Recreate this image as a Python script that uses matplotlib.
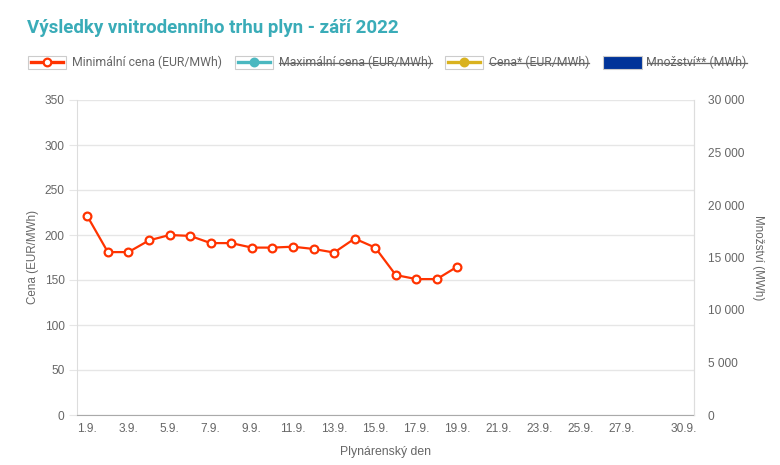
import matplotlib
matplotlib.use("Agg")
import matplotlib.pyplot as plt
from matplotlib.lines import Line2D
from matplotlib.patches import Rectangle

plt.rcParams['font.family'] = ['Roboto', 'DejaVu Sans']
AX_FONT = ['Liberation Sans', 'DejaVu Sans']

days = list(range(1, 31))
tick_days = [1, 3, 5, 7, 9, 11, 13, 15, 17, 19, 21, 23, 25, 27, 30]
tick_labels = [f"{d}." + "9." for d in tick_days]
min_price_days = list(range(1, 20))
min_price = [221, 181, 181, 194, 200, 199, 191, 191, 186, 186, 187, 184.5, 180.5,
             196, 186, 155.5, 151, 151, 165]
left_ticks = [0, 50, 100, 150, 200, 250, 300, 350]
right_ticks = [0, 5000, 10000, 15000, 20000, 25000, 30000]

RED = '#ff3300'
TEAL = '#4bb8c0'
YELLOW = '#d9b21f'
BLUE = '#003399'
GRID = '#e6e6e6'
TXT = '#666666'

W, H = 780, 465
fig = plt.figure(figsize=(W / 100, H / 100), dpi=100)
ax = fig.add_axes([77 / W, 1 - 415 / H, (694 - 77) / W, (415 - 100) / H])

ax.plot(min_price_days, min_price, color=RED, lw=1.6, marker='o', ms=5.6,
        mfc='white', mec=RED, mew=1.6, zorder=5, clip_on=False)

ax.set_xlim(0.5, 30.5)
ax.set_ylim(0, 350)
ax.set_xticks(tick_days)
ax.set_xticklabels(tick_labels, family=AX_FONT)
ax.set_yticks(left_ticks)
ax.set_yticklabels([str(v) for v in left_ticks], family=AX_FONT)
ax.grid(axis='y', color=GRID, lw=1)
ax.set_axisbelow(True)
ax.spines['top'].set_visible(False)
ax.spines['left'].set_color('#dddddd')
ax.spines['right'].set_color('#dddddd')
ax.spines['bottom'].set_color('#aaaaaa')
ax.tick_params(axis='y', colors=GRID, labelcolor=TXT, labelsize=8.6, length=6, pad=3)
ax.tick_params(axis='x', length=0, labelcolor=TXT, labelsize=8.6, pad=6)
ax.set_ylabel('Cena (EUR/MWh)', color=TXT, fontsize=8.4, labelpad=4, family=AX_FONT)
ax.set_xlabel('Plynárenský den', color=TXT, fontsize=8.8, labelpad=8, family=AX_FONT)

ax2 = ax.twinx()
ax2.set_ylim(0, 30000)
ax2.set_yticks(right_ticks)
ax2.set_yticklabels([f"{v:,}".replace(',', ' ') for v in right_ticks], family=AX_FONT)
ax2.tick_params(axis='y', length=0, labelcolor=TXT, labelsize=8.6, pad=10)
for s in ['top', 'left', 'bottom']:
    ax2.spines[s].set_visible(False)
ax2.spines['right'].set_color('#dddddd')
ax2.set_ylabel('Množství (MWh)', color=TXT, fontsize=8.4, rotation=270, labelpad=14,
               family=AX_FONT)

fig.text(27 / W, 1 - 28 / H, 'Výsledky vnitrodenního trhu plyn - září 2022',
         color='#3aacb8', fontsize=13.5, fontweight='bold', va='center', ha='left')

# legend
ly = 62.5
items = [
    (27.5, 'line', RED, 'Minimální cena (EUR/MWh)', False),
    (235, 'line', TEAL, 'Maximální cena (EUR/MWh)', True),
    (445, 'line', YELLOW, 'Cena* (EUR/MWh)', True),
    (602.5, 'box', BLUE, 'Množství** (MWh)', True),
]
fig.canvas.draw()
renderer = fig.canvas.get_renderer()
for x0, kind, col, label, struck in items:
    bw, bh = 38, 13
    if kind == 'line':
        fig.add_artist(Rectangle((x0 / W, 1 - (ly + bh / 2) / H), bw / W, bh / H,
                                 transform=fig.transFigure, fc='white', ec='#cccccc', lw=0.8))
        fig.add_artist(Line2D([(x0 + 3) / W, (x0 + bw - 3) / W], [1 - ly / H] * 2,
                              transform=fig.transFigure, color=col, lw=2.4))
        fig.add_artist(Line2D([(x0 + bw / 2) / W], [1 - ly / H], transform=fig.transFigure,
                              marker='o', ms=5.5, mfc='white' if not struck else col,
                              mec=col, mew=1.6))
    else:
        fig.add_artist(Rectangle((x0 / W, 1 - (ly + bh / 2) / H), (bw + 1) / W, bh / H,
                                 transform=fig.transFigure, fc=col, ec='#cccccc', lw=0.8))
    t = fig.text((x0 + bw + 6) / W, 1 - ly / H, label, color=TXT, fontsize=8.8,
                 va='center', ha='left')
    if struck:
        bb = t.get_window_extent(renderer)
        fig.add_artist(Line2D([bb.x0 / W, bb.x1 / W], [1 - (ly + 0.5) / H] * 2,
                              transform=fig.transFigure, color=TXT, lw=0.9))

fig.savefig('out.png', dpi=100)
